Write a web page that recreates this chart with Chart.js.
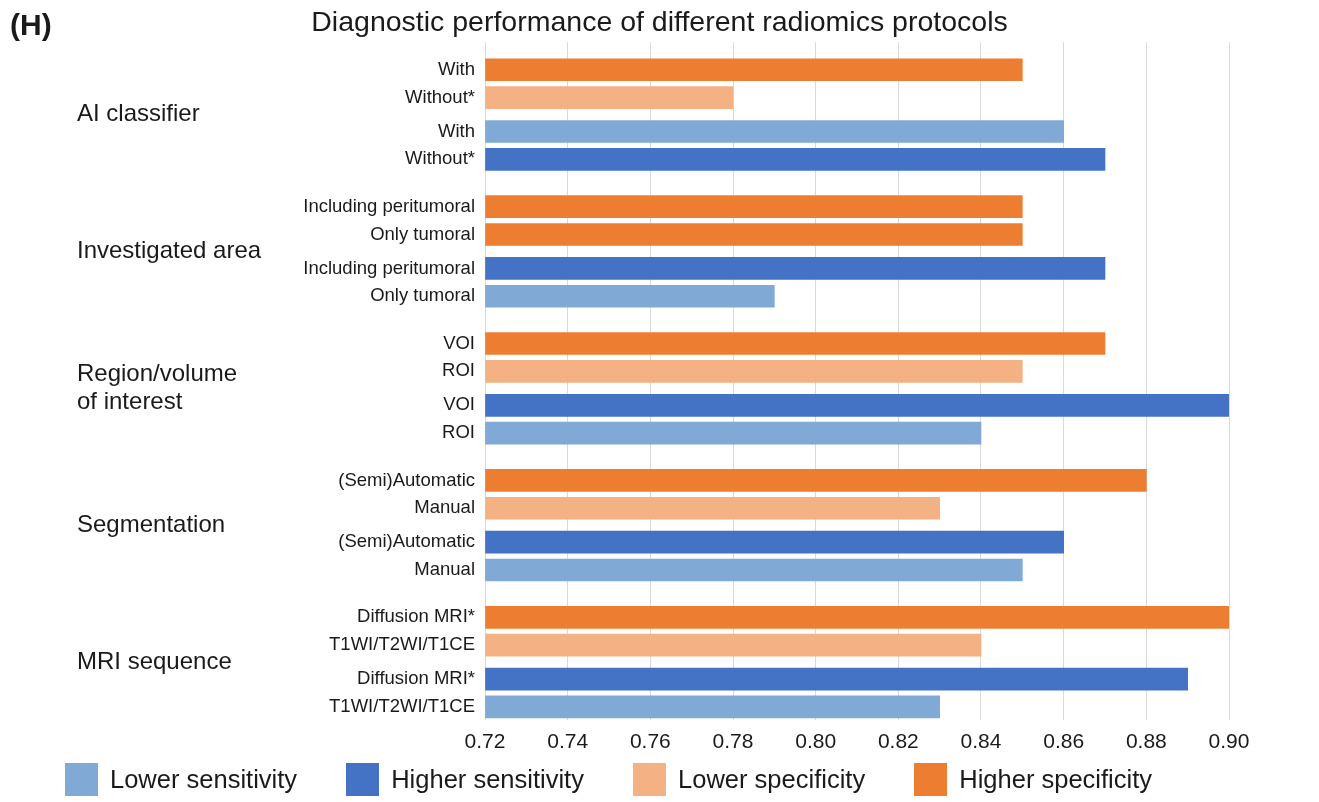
<!DOCTYPE html>
<html><head><meta charset="utf-8">
<script src="https://cdn.jsdelivr.net/npm/chart.js@4.4.0/dist/chart.umd.min.js"></script>
<style>
html,body{margin:0;padding:0;background:#fff;}
#wrap{position:relative;width:1319px;height:802px;font-family:"Liberation Sans",Arial,sans-serif;color:#1a1a1a;}
#c{position:absolute;left:0;top:0;}
#panel{position:absolute;left:10px;top:8px;font-size:30px;font-weight:bold;line-height:34px;}
#legend{position:absolute;left:65px;top:763px;width:1087px;display:flex;justify-content:space-between;align-items:center;}
.item{display:flex;align-items:center;gap:12px;font-size:25.5px;line-height:33px;white-space:nowrap;}
.sw{width:33px;height:33px;flex:none;}
</style></head>
<body><div id="wrap"><canvas id="c" width="1319" height="802"></canvas><div id="panel">(H)</div><div id="legend"></div></div>
<script>
// ---- data ----
const titleText = "Diagnostic performance of different radiomics protocols";
const groupLabels = ["AI classifier", "Investigated area", ["Region/volume", "of interest"], "Segmentation", "MRI sequence"];
const protocolLabels = [
  ["With", "Without*"],
  ["Including peritumoral", "Only tumoral"],
  ["VOI", "ROI"],
  ["(Semi)Automatic", "Manual"],
  ["Diffusion MRI*", "T1WI/T2WI/T1CE"]
];
const specificityValues = [[0.85, 0.78], [0.85, 0.85], [0.87, 0.85], [0.88, 0.83], [0.90, 0.84]];
const sensitivityValues = [[0.86, 0.87], [0.87, 0.79], [0.90, 0.84], [0.86, 0.85], [0.89, 0.83]];
const seriesNames = ["Lower sensitivity", "Higher sensitivity", "Lower specificity", "Higher specificity"];
const seriesColors = ["#80A9D6", "#4472C4", "#F4B183", "#ED7D31"];
const xTicks = [0.72, 0.74, 0.76, 0.78, 0.80, 0.82, 0.84, 0.86, 0.88, 0.90];

// ---- layout constants (row units) ----
const pairSep = 1.22, groupSep = 1.70;
const groupStride = 2 + pairSep + groupSep;
const topMargin = 0.99, bottomMargin = 0.47;
const FONT = '"Liberation Sans", Arial, sans-serif';
const TXT = '#1a1a1a';

const rows = [];
const groupCenters = [];
const dataBySeries = [[], [], [], []];
groupLabels.forEach((g, gi) => {
  const first = gi * groupStride;
  const groupRows = [];
  [specificityValues, sensitivityValues].forEach((vals, k) => {
    const pair = vals[gi];
    pair.forEach((v, r) => {
      const pos = first + k * (1 + pairSep) + r;
      rows.push({label: protocolLabels[gi][r], pos});
      groupRows.push(pos);
      const higher = v >= pair[1 - r];
      const s = (k === 0 ? 2 : 0) + (higher ? 1 : 0);
      dataBySeries[s].push({x: v, y: pos});
    });
  });
  groupCenters.push((groupRows[0] + groupRows[groupRows.length - 1]) / 2);
});
const yMin = -topMargin;
const yMax = rows[rows.length - 1].pos + bottomMargin;

const datasets = seriesNames.map((n, i) => ({
  label: n,
  data: dataBySeries[i],
  backgroundColor: seriesColors[i],
  borderWidth: 0,
  barThickness: 22,
  grouped: false,
  base: xTicks[0],
  xAxisID: 'x',
  yAxisID: 'y'
}));

new Chart(document.getElementById('c'), {
  type: 'bar',
  data: {datasets},
  options: {
    indexAxis: 'y',
    responsive: false,
    animation: false,
    layout: {padding: {left: 77, right: 77, top: 0, bottom: 36.8}},
    plugins: {
      legend: {display: false},
      tooltip: {enabled: false},
      title: {
        display: true, text: titleText, color: TXT,
        font: {family: FONT, size: 28.5, weight: 'normal'},
        padding: {top: 6, bottom: 2}
      }
    },
    scales: {
      x: {
        type: 'linear', position: 'bottom',
        min: xTicks[0], max: xTicks[xTicks.length - 1],
        afterBuildTicks: s => { s.ticks = xTicks.map(v => ({value: v})); },
        ticks: {callback: v => Number(v).toFixed(2), color: TXT, font: {family: FONT, size: 21}, padding: 10, autoSkip: false, maxRotation: 0},
        grid: {color: '#d9d9d9', lineWidth: 1, drawTicks: false},
        border: {display: false}
      },
      y: {
        type: 'linear', position: 'left', reverse: true, weight: 0, offset: false,
        min: yMin, max: yMax,
        afterBuildTicks: s => { s.ticks = rows.map(r => ({value: r.pos})); },
        ticks: {callback: (v, i) => rows[i].label, color: TXT, font: {family: FONT, size: 18.5}, padding: 10, autoSkip: false},
        grid: {display: false, drawTicks: false, offset: false},
        border: {display: false},
        afterFit: s => { s.width = 182; }
      },
      y2: {
        type: 'linear', position: 'left', reverse: true, weight: 1, offset: false,
        min: yMin, max: yMax,
        afterBuildTicks: s => { s.ticks = groupCenters.map(v => ({value: v})); },
        ticks: {callback: (v, i) => groupLabels[i], color: TXT, font: {family: FONT, size: 24}, padding: 0, crossAlign: 'far', autoSkip: false},
        grid: {display: false, drawTicks: false, offset: false},
        border: {display: false},
        afterFit: s => { s.width = 226; }
      },
      yR: {
        type: 'linear', position: 'right', reverse: true, offset: false,
        min: yMin, max: yMax,
        ticks: {display: false},
        grid: {display: false, drawTicks: false, offset: false},
        border: {display: false},
        afterFit: s => { s.width = 13; }
      }
    }
  }
});

const legend = document.getElementById('legend');
seriesNames.forEach((n, i) => {
  const it = document.createElement('div');
  it.className = 'item';
  const sw = document.createElement('div');
  sw.className = 'sw';
  sw.style.background = seriesColors[i];
  const t = document.createElement('span');
  t.textContent = n;
  it.appendChild(sw); it.appendChild(t);
  legend.appendChild(it);
});
</script>
</body></html>
